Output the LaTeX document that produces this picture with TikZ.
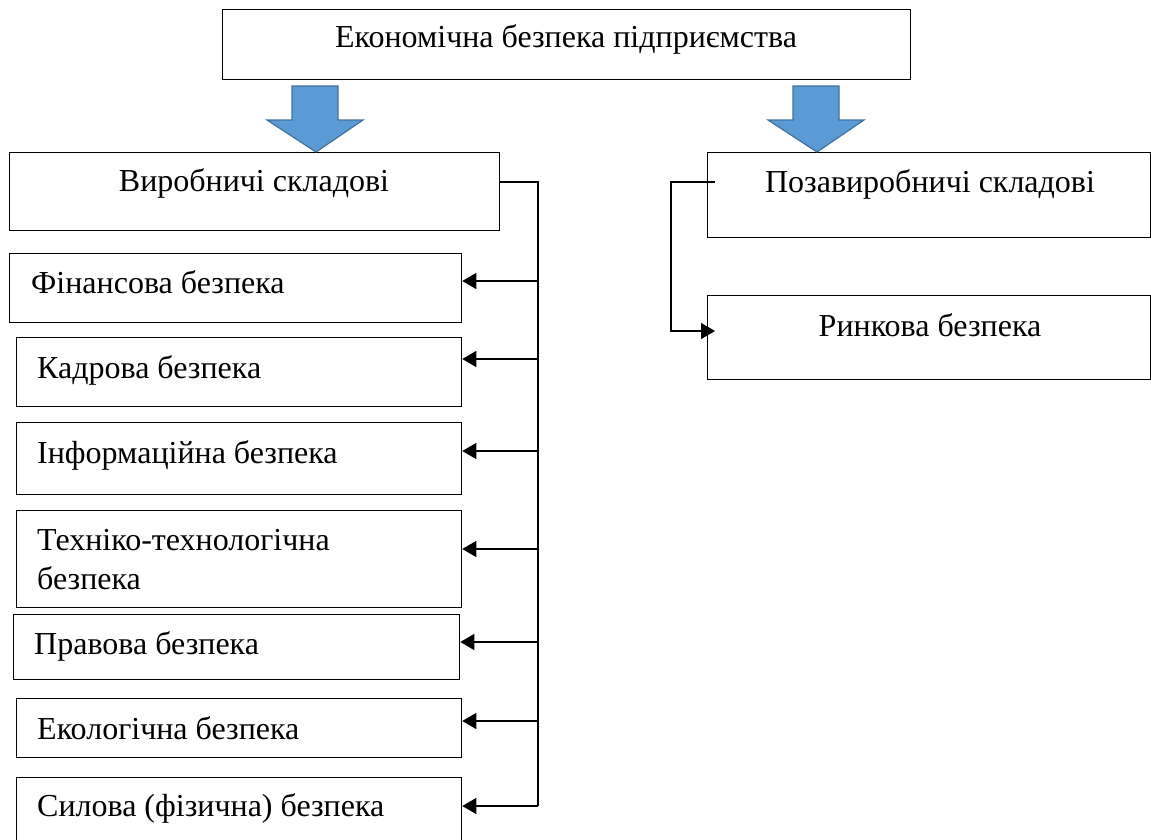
\documentclass[tikz,border=0pt]{standalone}
\usepackage{fontspec}
\setmainfont{Liberation Serif}
\usetikzlibrary{arrows.meta}
\definecolor{blockfill}{HTML}{5B9BD5}
\definecolor{blockdraw}{HTML}{41719C}
\begin{document}
\begin{tikzpicture}[x=1pt,y=-1pt,
  box/.style={draw=black, line width=1.3pt, rectangle, inner sep=0pt, anchor=north west},
  txt/.style={font=\fontsize{32}{39}\selectfont, inner sep=0pt, anchor=base west},
  ctxt/.style={font=\fontsize{32}{39}\selectfont, inner sep=0pt, anchor=base},
  conn/.style={draw=black, line width=1.2pt},
  arr/.style={conn, -{Triangle[length=14pt,width=16pt]}},
  blockarrow/.style={fill=blockfill, draw=blockdraw, line width=1.2pt, line join=miter}]
\useasboundingbox (0,0) rectangle (1151,839);
\clip (0,0) rectangle (1151,839);
% boxes
\node[box, minimum width=688, minimum height=70] (top) at (222,9) {};
\node[box, minimum width=490, minimum height=78] (viro) at (9,152) {};
\node[box, minimum width=443, minimum height=85] (pozav) at (707,152) {};
\node[box, minimum width=443, minimum height=84] (rynk) at (707,295) {};
\node[box, minimum width=452, minimum height=69] (fin) at (9,253) {};
\node[box, minimum width=445, minimum height=69] (kadr) at (16,337) {};
\node[box, minimum width=445, minimum height=72] (inf) at (16,422) {};
\node[box, minimum width=445, minimum height=97] (tech) at (16,510) {};
\node[box, minimum width=446, minimum height=65] (prav) at (13,614) {};
\node[box, minimum width=445, minimum height=59] (eko) at (16,698) {};
\node[box, minimum width=445, minimum height=80] (sil) at (16,777) {};
% texts
\node[ctxt] (toptxt) at (566,47) {Економічна безпека підприємства};
\node[ctxt] (virotxt) at (254,191) {Виробничі складові};
\node[ctxt] (pozavtxt) at (930,192) {Позавиробничі складові};
\node[ctxt] (rynktxt) at (930,336) {Ринкова безпека};
\node[txt] (fintxt) at (31,293) {Фінансова безпека};
\node[txt] (kadrtxt) at (37,378) {Кадрова безпека};
\node[txt] (inftxt) at (37,463) {Інформаційна безпека};
\node[txt] (techtxt1) at (37,550) {Техніко-технологічна};
\node[txt] (techtxt2) at (37,589) {безпека};
\node[txt] (pravtxt) at (34,654) {Правова безпека};
\node[txt] (ekotxt) at (37,739) {Екологічна безпека};
\node[txt] (siltxt) at (37,816) {Силова (фізична) безпека};
% block arrows
\foreach \dx in {0,501}{
  \draw[blockarrow, shift={(\dx,0)}] (292,86) -- (338,86) -- (338,120) -- (363,120) -- (316,152) -- (267,120) -- (292,120) -- cycle;
}
% left tree
\coordinate (trunktop) at (538,182);
\coordinate (trunkbot) at (538,806);
\draw[conn] (viro.east |- trunktop) -- (trunktop) -- (trunkbot);
\foreach \n/\y in {fin/281, kadr/359, inf/451, tech/549, prav/642, eko/721, sil/806}{
  \coordinate (yy) at (0,\y);
  \draw[arr] (trunktop |- yy) -- (\n.east |- yy);
}
% right tree
\coordinate (rstart) at (715,182);
\coordinate (rcorner) at (671,182);
\coordinate (rend) at (715,331);
\draw[arr] (rstart) -- (rcorner) -- (rcorner |- rend) -- (rend);
\end{tikzpicture}
\end{document}
